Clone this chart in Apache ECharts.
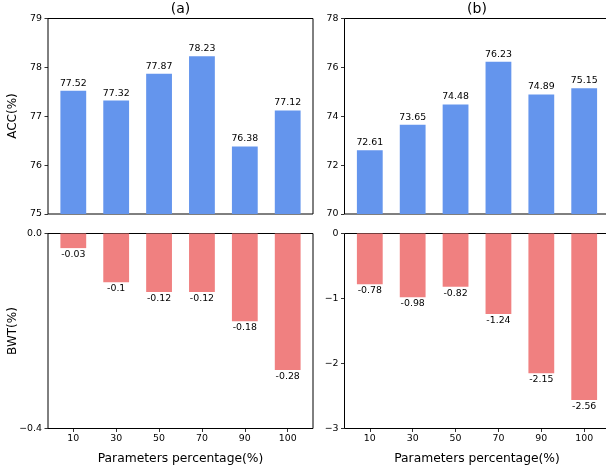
<!DOCTYPE html>
<html>
<head>
<meta charset="utf-8">
<script src="https://cdn.jsdelivr.net/npm/echarts@6/dist/echarts.min.js"></script>
<style>
html,body{margin:0;padding:0;background:#fff;}
#chart{width:606px;height:470px;}
</style>
</head>
<body>
<div id="chart"></div>
<script>
// ---- data ----
var categories = ['10', '30', '50', '70', '90', '100'];
var accA = [77.52, 77.32, 77.87, 78.23, 76.38, 77.12];
var bwtA = [-0.03, -0.1, -0.12, -0.12, -0.18, -0.28];
var accB = [72.61, 73.65, 74.48, 76.23, 74.89, 75.15];
var bwtB = [-0.78, -0.98, -0.82, -1.24, -2.15, -2.56];
var panelTitles = ['(a)', '(b)'];
var xTitle = 'Parameters percentage(%)';
var yTitles = ['ACC(%)', 'BWT(%)'];

var FONT = 'DejaVu Sans';
var BLUE = '#6495ED';
var RED = '#F08080';
var TXT = '#000';
var FS = 9.4;

function pts(arr) { return arr.map(function (v, i) { return [i, v]; }); }
var idx = categories.map(function (c, i) { return i; });

var leftA = 48, leftB = 344.5, gw = 265;
var topT = 18.5, hT = 195.5, topB = 233.5, hB = 195;

function grid(left, top, h) {
  return { left: left, width: gw, top: top, height: h, show: true,
    outerBoundsMode: 'none',
    borderColor: '#000', borderWidth: 1, backgroundColor: 'transparent', containLabel: false };
}

function xAx(gi, showLabels) {
  return {
    type: 'value', gridIndex: gi, min: -0.59, max: 5.59, position: 'bottom',
    splitLine: { show: false },
    axisLine: { show: false, onZero: false },
    axisTick: { show: showLabels, customValues: idx, length: 3.5, inside: false,
      lineStyle: { color: '#000', width: 0.8 } },
    axisLabel: { show: showLabels, customValues: idx, margin: 6,
      fontFamily: FONT, fontSize: FS, color: TXT,
      formatter: function (v) { return categories[Math.round(v)]; } }
  };
}

function minus(s) { return s.replace('-', '\u2212'); }

function yAx(gi, min, max, interval, fmt) {
  return {
    type: 'value', gridIndex: gi, min: min, max: max, interval: interval, position: 'left',
    splitLine: { show: false },
    axisLine: { show: false, onZero: false },
    axisTick: { show: true, length: 3.5, lineStyle: { color: '#000', width: 0.8 } },
    axisLabel: { margin: 6, fontFamily: FONT, fontSize: FS, color: TXT, formatter: fmt }
  };
}

function barSeries(gi, data, color, pos) {
  return {
    type: 'bar', xAxisIndex: gi, yAxisIndex: gi, data: pts(data),
    barWidth: 25.8, itemStyle: { color: color },
    clip: true,
    label: { show: true, position: pos, distance: pos === 'top' ? 3 : 2,
      fontFamily: FONT, fontSize: FS, color: TXT,
      formatter: function (p) { return String(p.value[1]); } },
    animation: false
  };
}

var chart = echarts.init(document.getElementById('chart'), null, { renderer: 'canvas' });

var option = {
  animation: false,
  backgroundColor: '#fff',
  grid: [grid(leftA, topT, hT), grid(leftA, topB, hB), grid(leftB, topT, hT), grid(leftB, topB, hB)],
  xAxis: [xAx(0, false), xAx(1, true), xAx(2, false), xAx(3, true)],
  yAxis: [
    yAx(0, 75, 79, 1, function (v) { return String(v); }),
    yAx(1, -0.4, 0, 0.4, function (v) { return minus(v.toFixed(1)); }),
    yAx(2, 70, 78, 2, function (v) { return String(v); }),
    yAx(3, -3, 0, 1, function (v) { return minus(String(v)); })
  ],
  series: [
    barSeries(0, accA, BLUE, 'top'),
    barSeries(1, bwtA, RED, 'bottom'),
    barSeries(2, accB, BLUE, 'top'),
    barSeries(3, bwtB, RED, 'bottom')
  ],
  graphic: [
    { type: 'text', x: leftA + gw / 2, y: 9.5, style: { text: panelTitles[0], font: '14px "' + FONT + '"', fill: TXT, textAlign: 'center', textVerticalAlign: 'middle' } },
    { type: 'text', x: leftB + gw / 2, y: 9.5, style: { text: panelTitles[1], font: '14px "' + FONT + '"', fill: TXT, textAlign: 'center', textVerticalAlign: 'middle' } },
    { type: 'text', x: leftA + gw / 2, y: 458.5, style: { text: xTitle, font: '12.3px "' + FONT + '"', fill: TXT, textAlign: 'center', textVerticalAlign: 'middle' } },
    { type: 'text', x: leftB + gw / 2, y: 458.5, style: { text: xTitle, font: '12.3px "' + FONT + '"', fill: TXT, textAlign: 'center', textVerticalAlign: 'middle' } },
    { type: 'text', x: 13, y: 116, rotation: Math.PI / 2, style: { text: yTitles[0], font: '12px "' + FONT + '"', fill: TXT, textAlign: 'center', textVerticalAlign: 'middle' } },
    { type: 'text', x: 13, y: 331, rotation: Math.PI / 2, style: { text: yTitles[1], font: '12px "' + FONT + '"', fill: TXT, textAlign: 'center', textVerticalAlign: 'middle' } }
  ]
};
chart.setOption(option);
</script>
</body>
</html>
